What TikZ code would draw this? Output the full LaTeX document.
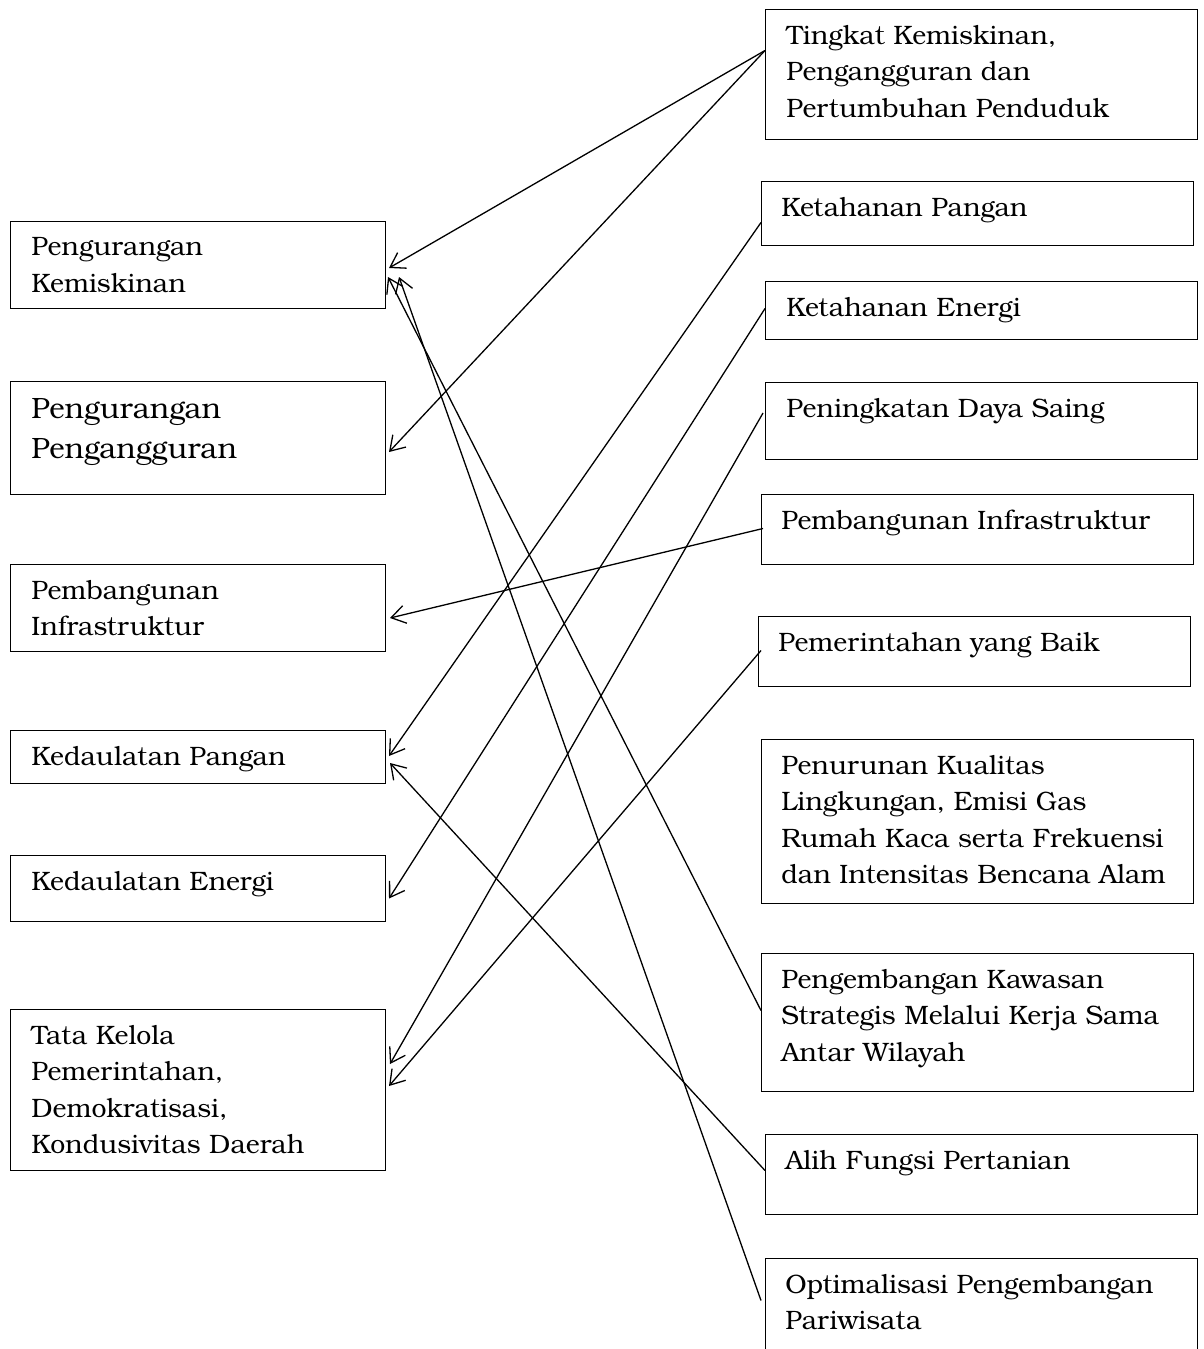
\documentclass[tikz,border=0pt]{standalone}
\usepackage{fontspec}
\setmainfont{texgyrebonum-regular.otf}
\usepackage{tikz}
\usetikzlibrary{arrows.meta}

\begin{document}
\begin{tikzpicture}[x=0.5pt,y=-0.5pt,
            kotak/.style={draw, line width=0.5pt, anchor=north west, inner sep=0pt},
            kiri/.style={kotak, minimum width=187.5pt},
            kanan/.style={kotak, minimum width=216pt},
            teks/.style={anchor=north west, inner sep=0pt, align=left, font=\fontsize{13.3}{18.25}\selectfont},
            panah/.style={-{Straight Barb[length=7pt,width=9pt]}, line width=0.65pt}]
            \useasboundingbox (0,0) rectangle (1204,1349);
            \node[kiri, minimum height=43.5pt] (kemiskinan) at (10,221) {};
            \node[kiri, minimum height=56.5pt] (pengangguran) at (10,381) {};
            \node[kiri, minimum height=43.5pt] (infrastruktur) at (10,564) {};
            \node[kiri, minimum height=26.5pt] (pangan) at (10,730) {};
            \node[kiri, minimum height=33pt] (energi) at (10,855) {};
            \node[kiri, minimum height=80.5pt] (tatakelola) at (10,1009) {};
            \node[teks] (tkemiskinan) at ([shift={(21,16)}]kemiskinan.north west) {Pengurangan\\Kemiskinan};
            \node[teks, font=\fontsize{14.7}{20}\selectfont] (tpengangguran) at ([shift={(21,17)}]pengangguran.north west) {Pengurangan\\Pengangguran};
            \node[teks] (tinfrastruktur) at ([shift={(21,16)}]infrastruktur.north west) {Pembangunan\\Infrastruktur};
            \node[teks] (tpangan) at ([shift={(21,16)}]pangan.north west) {Kedaulatan Pangan};
            \node[teks] (tenergi) at ([shift={(21,16)}]energi.north west) {Kedaulatan Energi};
            \node[teks] (ttatakelola) at ([shift={(21,16)}]tatakelola.north west) {Tata Kelola\\Pemerintahan,\\Demokratisasi,\\Kondusivitas Daerah};
            \node[kanan, minimum height=65pt] (tingkat) at (765,9) {};
            \node[kanan, minimum height=32pt] (ketpangan) at (761,181) {};
            \node[kanan, minimum height=29pt] (ketenergi) at (765,281) {};
            \node[kanan, minimum height=38.5pt] (dayasaing) at (765,382) {};
            \node[kanan, minimum height=35pt] (pembangunan) at (761,494) {};
            \node[kanan, minimum height=35pt] (pemerintahan) at (758,616) {};
            \node[kanan, minimum height=82pt] (lingkungan) at (761,739) {};
            \node[kanan, minimum height=69pt] (kawasan) at (761,953) {};
            \node[kanan, minimum height=40pt] (alihfungsi) at (765,1134) {};
            \node[kanan, minimum height=56pt] (pariwisata) at (765,1258) {};
            \node[teks] (ttingkat) at ([shift={(21,16)}]tingkat.north west) {Tingkat Kemiskinan,\\Pengangguran dan\\Pertumbuhan Penduduk};
            \node[teks] (tketpangan) at ([shift={(20,16)}]ketpangan.north west) {Ketahanan Pangan};
            \node[teks] (tketenergi) at ([shift={(21,16)}]ketenergi.north west) {Ketahanan Energi};
            \node[teks] (tdayasaing) at ([shift={(21,16)}]dayasaing.north west) {Peningkatan Daya Saing};
            \node[teks] (tpembangunan) at ([shift={(20,16)}]pembangunan.north west) {Pembangunan Infrastruktur};
            \node[teks] (tpemerintahan) at ([shift={(20,16)}]pemerintahan.north west) {Pemerintahan yang Baik};
            \node[teks] (tlingkungan) at ([shift={(20,16)}]lingkungan.north west) {Penurunan Kualitas\\Lingkungan, Emisi Gas\\Rumah Kaca serta Frekuensi\\dan Intensitas Bencana Alam};
            \node[teks] (tkawasan) at ([shift={(20,16)}]kawasan.north west) {Pengembangan Kawasan\\Strategis Melalui Kerja Sama\\Antar Wilayah};
            \node[teks] (talihfungsi) at ([shift={(20,16)}]alihfungsi.north west) {Alih Fungsi Pertanian};
            \node[teks] (tpariwisata) at ([shift={(20,16)}]pariwisata.north west) {Optimalisasi Pengembangan\\Pariwisata};
            \draw[panah] ([shift={(0,-24)}]tingkat.west) -- ([shift={(3,3)}]kemiskinan.east);
            \draw[panah] ([shift={(0,-24)}]tingkat.west) -- ([shift={(3,14)}]pengangguran.east);
            \draw[panah] ([shift={(0,9)}]ketpangan.west) -- ([shift={(3,-1)}]pangan.east);
            \draw[panah] ([shift={(0,-2)}]ketenergi.west) -- ([shift={(3,10)}]energi.east);
            \draw[panah] ([shift={(-2,-8)}]dayasaing.west) -- ([shift={(4,-26)}]tatakelola.east);
            \draw[panah] ([shift={(2,-1)}]pembangunan.west) -- ([shift={(4,10)}]infrastruktur.east);
            \draw[panah] ([shift={(3,-1)}]pemerintahan.west) -- ([shift={(3,-4)}]tatakelola.east);
            \draw[panah] ([shift={(0,-12)}]kawasan.west) -- ([shift={(2,12)}]kemiskinan.east);
            \draw[panah] ([shift={(0,-4)}]alihfungsi.west) -- ([shift={(4,6)}]pangan.east);
            \draw[panah] ([shift={(-4,-14)}]pariwisata.west) -- ([shift={(13,12)}]kemiskinan.east);
        \end{tikzpicture}
\end{document}
